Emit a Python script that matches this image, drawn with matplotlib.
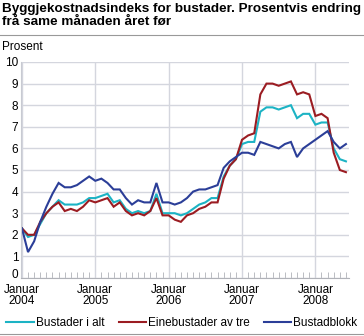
import matplotlib
matplotlib.use('Agg')
import matplotlib.pyplot as plt
import matplotlib.transforms as mtransforms
from matplotlib.lines import Line2D
import numpy as np

plt.rcParams['font.family'] = ['Liberation Sans', 'DejaVu Sans']

# monthly values, Januar 2004 - Juni 2008
bustader_i_alt = [
    2.3, 1.9, 2.0, 2.5, 3.0, 3.3, 3.6, 3.4, 3.4, 3.4, 3.5, 3.7,
    3.7, 3.8, 3.9, 3.5, 3.6, 3.2, 3.0, 3.1, 3.0, 3.1, 3.9, 3.0,
    3.0, 3.0, 2.9, 3.0, 3.2, 3.4, 3.5, 3.7, 3.7, 4.7, 5.2, 5.5,
    6.2, 6.3, 6.3, 7.7, 7.9, 7.9, 7.8, 7.9, 8.0, 7.4, 7.6, 7.6,
    7.1, 7.2, 7.2, 6.0, 5.5, 5.4,
]
einebustader = [
    2.3, 2.0, 2.0, 2.6, 3.0, 3.3, 3.5, 3.1, 3.2, 3.1, 3.3, 3.6,
    3.5, 3.6, 3.7, 3.3, 3.5, 3.1, 2.9, 3.0, 2.9, 3.1, 3.7, 2.9,
    2.9, 2.7, 2.6, 2.9, 3.0, 3.2, 3.3, 3.5, 3.5, 4.6, 5.2, 5.5,
    6.4, 6.6, 6.7, 8.5, 9.0, 9.0, 8.9, 9.0, 9.1, 8.5, 8.6, 8.5,
    7.5, 7.6, 7.4, 5.8, 5.0, 4.9,
]
bustadblokk = [
    2.3, 1.2, 1.7, 2.6, 3.3, 3.9, 4.4, 4.2, 4.2, 4.3, 4.5, 4.7,
    4.5, 4.6, 4.4, 4.1, 4.1, 3.7, 3.4, 3.6, 3.5, 3.5, 4.4, 3.5,
    3.5, 3.4, 3.5, 3.7, 4.0, 4.1, 4.1, 4.2, 4.3, 5.1, 5.4, 5.6,
    5.8, 5.8, 5.7, 6.3, 6.2, 6.1, 6.0, 6.2, 6.3, 5.6, 6.0, 6.2,
    6.4, 6.6, 6.8, 6.3, 6.0, 6.2,
]
years = ['2004', '2005', '2006', '2007', '2008']
labels = ['Bustader i alt', 'Einebustader av tre', 'Bustadblokk']
colors = ['#1cb3c4', '#9b1c22', '#2b3e98']

months = np.arange(len(bustader_i_alt))

fig = plt.figure(figsize=(3.64, 3.36), dpi=100)
ax = fig.add_axes([21/364, 1 - 278/336, 328/364, 216/336])

for vals, col, lab in zip([bustader_i_alt, einebustader, bustadblokk], colors, labels):
    ax.plot(months, vals, color=col, linewidth=1.5, label=lab, solid_joinstyle='miter')

ax.set_xlim(-0.15, 53.5)
ax.set_ylim(0, 10)
ax.set_yticks(range(0, 11))
ax.set_xticks([12 * i for i in range(len(years))])
ax.set_xticklabels(['Januar\n' + y for y in years], linespacing=0.95)
ax.set_xticks(range(0, 54), minor=True)
ax.grid(True, which='major', color='#d4d6de', linewidth=1)
ax.set_axisbelow(True)

for s in ['top', 'right']:
    ax.spines[s].set_visible(False)
ax.spines['left'].set_color('#c8cad2')
ax.spines['bottom'].set_color('#b0b2b8')
ax.tick_params(axis='both', which='major', length=0, labelsize=8.5, colors='#000000')
ax.tick_params(axis='x', which='major', pad=4)
ax.tick_params(axis='y', which='major', pad=2)
ax.tick_params(axis='x', which='minor', direction='in', length=4, color='#b0b2b8')

# lift the "0" label a bit so it clears the year labels
fig.canvas.draw()
zero_lab = ax.get_yticklabels()[0]
zero_lab.set_transform(zero_lab.get_transform() + mtransforms.ScaledTranslation(0, 4/100, fig.dpi_scale_trans))

fig.text(2/364, 1 - 3/336, 'Byggjekostnadsindeks for bustader. Prosentvis endring\nfrå same månaden året før',
         ha='left', va='top', fontsize=9.7, fontweight='bold', linespacing=1.1)
fig.add_artist(Line2D([0, 1], [1 - 35/336, 1 - 35/336], color='#999999', linewidth=0.8))
fig.text(2/364, 1 - 47/336, 'Prosent', ha='left', va='center', fontsize=8.5)

fig.legend(loc='center', bbox_to_anchor=(0.5, 1 - 323/336), ncol=3, frameon=False,
           fontsize=8.5, handlelength=2.3, handletextpad=0.2, columnspacing=1.2)
fig.add_artist(Line2D([0, 1], [1 - 334/336, 1 - 334/336], color='#999999', linewidth=0.8))

fig.savefig('out.png', dpi=100)
